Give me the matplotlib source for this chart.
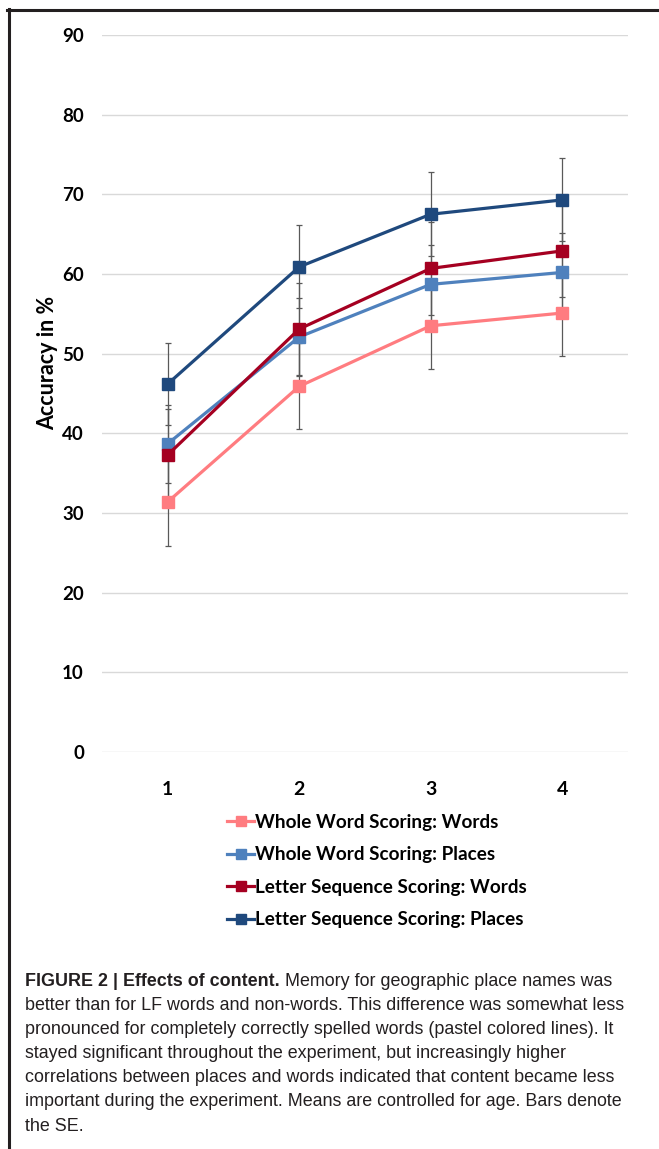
import numpy as np
import matplotlib
matplotlib.use('Agg')
import matplotlib.pyplot as plt
from matplotlib.lines import Line2D

# --- data ---
blocks = [1, 2, 3, 4]
series_names = ['Whole Word Scoring: Words', 'Whole Word Scoring: Places',
                'Letter Sequence Scoring: Words', 'Letter Sequence Scoring: Places']
ww_words = [31.4, 45.9, 53.5, 55.1]
ww_places = [38.7, 52.1, 58.7, 60.2]
ls_words = [37.3, 53.1, 60.7, 62.9]
ls_places = [46.2, 60.9, 67.5, 69.3]
se_ww_words = [5.5, 5.4, 5.4, 5.4]
se_ww_places = [4.9, 4.9, 4.9, 4.9]
se_ls_words = [5.7, 5.8, 5.8, 5.8]
se_ls_places = [5.2, 5.2, 5.3, 5.2]
yticks = [0, 10, 20, 30, 40, 50, 60, 70, 80, 90]

colors = ['#FF7C80', '#4F81BD', '#A50021', '#1F497D']

caption_bold = 'FIGURE 2 | Effects of content.'
caption_lines = [
    ' Memory for geographic place names was',
    'better than for LF words and non-words. This difference was somewhat less',
    'pronounced for completely correctly spelled words (pastel colored lines). It',
    'stayed significant throughout the experiment, but increasingly higher',
    'correlations between places and words indicated that content became less',
    'important during the experiment. Means are controlled for age. Bars denote',
    'the SE.',
]

W, H = 659, 1149
fig = plt.figure(figsize=(W / 100, H / 100), dpi=100)
ax = fig.add_axes([102 / W, 1 - 752 / H, (628 - 102) / W, (752 - 35) / H])

tick_font = 'Lato'

all_vals = [ww_words, ww_places, ls_words, ls_places]
all_se = [se_ww_words, se_ww_places, se_ls_words, se_ls_places]

for vals, se in zip(all_vals, all_se):
    ax.errorbar(blocks, vals, yerr=se, fmt='none', ecolor='#595959',
                elinewidth=0.9, capsize=2.5, capthick=0.9, zorder=2)

handles = []
for vals, c, name in zip(all_vals, colors, series_names):
    h, = ax.plot(blocks, vals, color=c, lw=2.3, marker='s', ms=8.5,
                 mec=c, mfc=c, label=name, zorder=3)
    handles.append(h)

ax.set_xlim(0.5, 4.5)
ax.set_ylim(0, 90)
ax.set_yticks(yticks)
ax.set_xticks(blocks)
ax.set_yticklabels([str(v) for v in yticks], fontsize=13.5, fontweight='bold',
                   family=tick_font)
ax.set_xticklabels([str(b) for b in blocks], fontsize=14, fontweight='bold',
                   family=tick_font)
ax.tick_params(axis='both', length=0)
ax.tick_params(axis='y', pad=13)
ax.tick_params(axis='x', pad=21)
ax.grid(axis='y', color='#D9D9D9', lw=1)
ax.set_axisbelow(True)
for s in ax.spines.values():
    s.set_visible(False)

fig.text(48 / W, 1 - 363 / H, 'Accuracy in %', rotation=90, ha='center',
         va='center', fontsize=15.5, fontweight='bold', family=tick_font)

leg = fig.legend(handles=handles, loc='upper left',
                 bbox_to_anchor=(227 / W, 1 - 814 / H), frameon=False,
                 handlelength=1.45, handletextpad=0.05, labelspacing=0.82,
                 borderaxespad=0, borderpad=0,
                 prop={'family': tick_font, 'weight': 'bold', 'size': 13.6})
for lh in leg.legend_handles:
    lh.set_markersize(7)

# frame lines (top and left edges)
fig.add_artist(Line2D([7 / W, 1], [1 - 10 / H, 1 - 10 / H], color='#231F20',
                      lw=2.2, transform=fig.transFigure))
fig.add_artist(Line2D([8.5 / W, 8.5 / W], [1 - 9 / H, 0], color='#231F20',
                      lw=2.2, transform=fig.transFigure))

# caption
cap_font = 'Liberation Sans'
cap_size = 12.9
cap_color = '#231F20'
x0 = 25 / W
y0 = 1 - 981 / H
bt = fig.text(x0, y0, caption_bold, fontsize=cap_size, fontweight='bold',
              family=cap_font, color=cap_color, va='center')
fig.canvas.draw()
bb = bt.get_window_extent(renderer=fig.canvas.get_renderer())
fig.text(bb.x1 / (W), y0, caption_lines[0], fontsize=cap_size,
         family=cap_font, color=cap_color, va='center')
for i, line in enumerate(caption_lines[1:], start=1):
    fig.text(x0, y0 - i * 24.2 / H, line, fontsize=cap_size, family=cap_font,
             color=cap_color, va='center')

fig.savefig('out.png', dpi=100)
